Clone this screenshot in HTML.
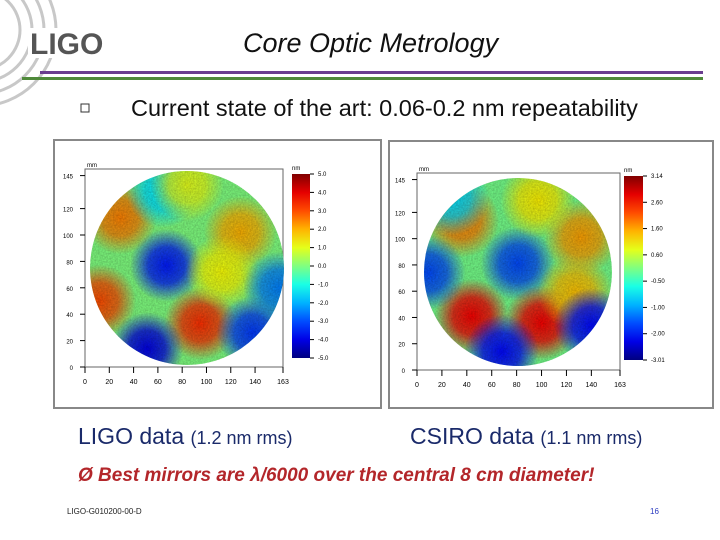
<!DOCTYPE html>
<html><head><meta charset="utf-8">
<style>
body{margin:0;background:#fff;}
#slide{position:relative;width:720px;height:540px;overflow:hidden;background:#fff;font-family:"Liberation Sans",sans-serif;}
.t{position:absolute;white-space:nowrap;}
</style></head>
<body>
<div id="slide">
<svg width="720" height="540" style="position:absolute;left:0;top:0">
 <g fill="none" stroke="#c8c8c8" stroke-width="3">
  <circle cx="-20" cy="30" r="40"/><circle cx="-20" cy="30" r="52"/><circle cx="-20" cy="30" r="64"/><circle cx="-20" cy="30" r="76"/>
 </g>
 <rect x="28" y="28" width="84" height="30" fill="#fff"/>
 <text x="30" y="54" font-family="Liberation Sans" font-weight="bold" font-size="30" fill="#555">LIGO</text>
 <rect x="40" y="71" width="663" height="3" fill="#6a3d8f"/>
 <rect x="22" y="77" width="681" height="3" fill="#4f8a3a"/>
 <rect x="81" y="104" width="8" height="8" fill="none" stroke="#333" stroke-width="1"/>
 <g id="p1"></g>
 <g id="p2"></g>
</svg>
<div class="t" style="left:243px;top:28px;font-size:27px;font-style:italic;color:#111">Core Optic Metrology</div>
<div class="t" style="left:131px;top:95px;font-size:23.5px;color:#111">Current state of the art: 0.06-0.2 nm repeatability</div>
<div class="t" style="left:78px;top:423px;font-size:23px;color:#1a2a6a">LIGO data <span style="font-size:18px">(1.2 nm rms)</span></div>
<div class="t" style="left:410px;top:423px;font-size:23px;color:#1a2a6a">CSIRO data <span style="font-size:18px">(1.1 nm rms)</span></div>
<div class="t" style="left:78px;top:465px;font-size:19px;font-weight:bold;font-style:italic;color:#b3262a">Ø Best mirrors are λ/6000 over the central 8 cm diameter!</div>
<div class="t" style="left:67px;top:507px;font-size:8px;color:#222">LIGO-G010200-00-D</div>
<div class="t" style="left:650px;top:507px;font-size:8px;color:#2a3ac0">16</div>
</div>
<script>
// LIGO map data (mm positions, nm values)
const ligoBlobX=[67,95,12,29,128,113,51,138,160,64,84];
const ligoBlobY=[77,33,50,113,102,72,14,26,60,133,138];
const ligoBlobV=[-3.5,3.3,3,2.5,2,1.2,-4,-3.2,-2.5,-1.5,1];
const ligoXTicks=[0,20,40,60,80,100,120,140,163];
const ligoYTicks=[0,20,40,60,80,100,120,145];
const ligoCbLabels=["5.0","4.0","3.0","2.0","1.0","0.0","-1.0","-2.0","-3.0","-4.0","-5.0"];
// CSIRO map data
const csiroBlobX=[81,44,100,36,132,127,97,9,68,140,28];
const csiroBlobY=[81,41,36,114,101,59,129,74,14,34,131];
const csiroBlobV=[-1.8,2.4,2.4,1.6,1.4,1.2,0.9,-1.8,-2.2,-2.2,-0.9];
const csiroXTicks=[0,20,40,60,80,100,120,140,163];
const csiroYTicks=[0,20,40,60,80,100,120,145];
const csiroCbLabels=["3.14","2.60","1.60","0.60","-0.50","-1.00","-2.00","-3.01"];

const NS="http://www.w3.org/2000/svg";
function mk(p,tag,a){const e=document.createElementNS(NS,tag);for(const k in a)e.setAttribute(k,a[k]);p.appendChild(e);return e;}
function jet(t){t=Math.max(0,Math.min(1,t));
 const r=Math.max(0,Math.min(1,1.5-Math.abs(4*t-3))),g=Math.max(0,Math.min(1,1.5-Math.abs(4*t-2))),b=Math.max(0,Math.min(1,1.5-Math.abs(4*t-1)));
 return `rgb(${Math.round(r*255)},${Math.round(g*255)},${Math.round(b*255)})`;}

function panel(gid,id,f,bx,by,bv,xt,yt,cbl,vmin,vmax){
 const g=document.getElementById(gid);
 const X=v=>f.px0+(v/163)*(f.px1-f.px0);
 const Y=v=>f.py1-(v/150)*(f.py1-f.py0);
 const fr=mk(g,'rect',{x:f.fx,y:f.fy,width:f.fw,height:f.fh,fill:'#fff',stroke:'#888','stroke-width':2});
 
 mk(g,'rect',{x:f.px0,y:f.py0,width:f.px1-f.px0,height:f.py1-f.py0,fill:'#fff',stroke:'#666','stroke-width':1});
 const defs=mk(g,'defs',{});
 const cp=mk(defs,'clipPath',{id:id+'clip'});
 const cx=f.dx,cy=f.dy,r=f.r;
 mk(cp,'circle',{cx:cx,cy:cy,r:r});
 const flt=mk(defs,'filter',{id:id+'n',x:0,y:0,width:'100%',height:'100%'});
 mk(flt,'feTurbulence',{type:'fractalNoise',baseFrequency:0.6,numOctaves:2,seed:id.length});
 mk(flt,'feColorMatrix',{values:'0 0 0 0 0  0 0 0 0 0  0 0 0 0 0  0 0 0 0.3 0'});
 const map=mk(g,'g',{'clip-path':`url(#${id}clip)`});
 
 const t0=(0-vmin)/(vmax-vmin);
 mk(map,'circle',{cx:cx,cy:cy,r:r,fill:jet(t0)});
 const rad=(f.px1-f.px0)*30/163;
 bx.forEach((x,i)=>{
  const gr=mk(defs,'radialGradient',{id:id+'g'+i});
  const c=jet((bv[i]-vmin)/(vmax-vmin));
  mk(gr,'stop',{offset:'0','stop-color':c,'stop-opacity':1});
  mk(gr,'stop',{offset:'0.5','stop-color':c,'stop-opacity':0.8});
  mk(gr,'stop',{offset:'1','stop-color':c,'stop-opacity':0});
  const b=mk(map,'circle',{cx:X(x),cy:Y(by[i]),r:rad,fill:`url(#${id}g${i})`});
  
  
 });
 mk(map,'rect',{x:cx-r,y:cy-r,width:2*r,height:2*r,filter:`url(#${id}n)`});
 xt.forEach(v=>{mk(g,'line',{x1:X(v),x2:X(v),y1:f.py1,y2:f.py1+6,stroke:'#000'});
  const t=mk(g,'text',{x:X(v),y:f.py1+17,'font-size':7,'text-anchor':'middle','font-family':'Liberation Sans'});t.textContent=v;
  });
 yt.forEach(v=>{mk(g,'line',{x1:f.px0-5,x2:f.px0,y1:Y(v),y2:Y(v),stroke:'#000'});
  const t=mk(g,'text',{x:f.px0-12,y:Y(v)+3,'font-size':6,'text-anchor':'end','font-family':'Liberation Sans'});t.textContent=v;
  });
 const u=mk(g,'text',{x:f.px0+2,y:f.py0-2,'font-size':6,'font-family':'Liberation Sans'});u.textContent='mm';
 const lg=mk(defs,'linearGradient',{id:id+'cb',x1:0,y1:1,x2:0,y2:0});
 for(let k=0;k<=10;k++)mk(lg,'stop',{offset:k/10,'stop-color':jet(k/10)});
 const cb=mk(g,'rect',{x:f.cx,y:f.cy0,width:f.cw,height:f.cy1-f.cy0,fill:`url(#${id}cb)`});
 
 const cu=mk(g,'text',{x:f.cx,y:f.cy0-4,'font-size':6,'font-family':'Liberation Sans'});cu.textContent='nm';
 cbl.forEach((s,i)=>{const y=f.cy0+(f.cy1-f.cy0)*i/(cbl.length-1);
  mk(g,'line',{x1:f.cx+f.cw,x2:f.cx+f.cw+4,y1:y,y2:y,stroke:'#000'});
  const t=mk(g,'text',{x:f.cx+f.cw+8,y:y+2,'font-size':6,'font-family':'Liberation Sans'});t.textContent=s;
  });
}
panel('p1','a',{fx:54,fy:140,fw:327,fh:268,px0:85,px1:283,py0:169,py1:367,r:97,dx:187,dy:268,cx:292,cw:18,cy0:174,cy1:358},
 ligoBlobX,ligoBlobY,ligoBlobV,ligoXTicks,ligoYTicks,ligoCbLabels,-5,5);
panel('p2','b',{fx:389,fy:141,fw:324,fh:267,px0:417,px1:620,py0:173,py1:370,r:94,dx:518,dy:272,cx:624,cw:19,cy0:176,cy1:360},
 csiroBlobX,csiroBlobY,csiroBlobV,csiroXTicks,csiroYTicks,csiroCbLabels,-3.01,3.14);
</script>
</body></html>
